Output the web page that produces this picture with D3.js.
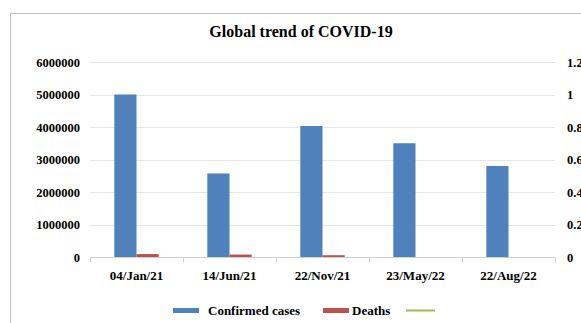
<!DOCTYPE html>
<html>
<head>
<meta charset="utf-8">
<script src="https://cdn.jsdelivr.net/npm/d3@7/dist/d3.min.js"></script>
<style>
  html, body { margin: 0; padding: 0; background: #fff; }
  svg { display: block; }
  text { font-family: "Liberation Serif", "Times New Roman", serif; fill: #000; }
</style>
</head>
<body>
<svg id="chart" width="581" height="323"></svg>
<script>
// Weekly figures at selected dates
const categories = ["04/Jan/21", "14/Jun/21", "22/Nov/21", "23/May/22", "22/Aug/22"];
const confirmedCases = [5000000, 2570000, 4030000, 3500000, 2800000];
const deaths = [90000, 75000, 55000, 0, 0];
const leftTicks = [0, 1000000, 2000000, 3000000, 4000000, 5000000, 6000000];
const rightTicks = [0, 0.2, 0.4, 0.6, 0.8, 1, 1.2];

const colors = { cases: "#4f81bd", deaths: "#c0504d", third: "#9bbb59" };

const svg = d3.select("#chart");
const plot = { left: 90, right: 555, top: 62, bottom: 257 };
const labelSize = "12.5px";

// Outer chart frame
svg.append("rect")
  .attr("x", 10.5).attr("y", 13.5)
  .attr("width", 600).attr("height", 340)
  .attr("fill", "#fff").attr("stroke", "#bfbfbf").attr("stroke-width", 1);

svg.append("text")
  .attr("x", 301).attr("y", 37)
  .attr("text-anchor", "middle")
  .style("font-size", "16px").style("font-weight", "bold")
  .text("Global trend of COVID-19");

const x = d3.scaleBand().domain(categories).range([plot.left, plot.right]);
const y = d3.scaleLinear().domain([0, 6000000]).range([plot.bottom, plot.top]);
const y2 = d3.scaleLinear().domain([0, 1.2]).range([plot.bottom, plot.top]);

// Horizontal gridlines
svg.append("g").selectAll("line")
  .data(leftTicks.filter(d => d > 0))
  .join("line")
  .attr("x1", plot.left).attr("x2", plot.right)
  .attr("y1", d => Math.round(y(d)) + 0.5).attr("y2", d => Math.round(y(d)) + 0.5)
  .attr("stroke", "#e6e6e6").attr("stroke-width", 1);

// Left axis labels
svg.append("g").attr("transform", `translate(${plot.left - 10},0)`)
  .call(d3.axisLeft(y).tickValues(leftTicks).tickSize(0).tickPadding(0).tickFormat(d3.format("d")))
  .call(g => g.select(".domain").remove())
  .selectAll("text")
  .style("font-family", "Liberation Serif, serif")
  .style("font-size", labelSize).style("font-weight", "bold").attr("fill", "#000");

// Right axis labels
svg.append("g").attr("transform", `translate(${plot.right + 12},0)`)
  .call(d3.axisRight(y2).tickValues(rightTicks).tickSize(0).tickPadding(0).tickFormat(d => String(+d.toFixed(1))))
  .call(g => g.select(".domain").remove())
  .selectAll("text")
  .style("font-family", "Liberation Serif, serif")
  .style("font-size", labelSize).style("font-weight", "bold").attr("fill", "#000");

// Bars: two per category, gap width ~219%
const bw = x.bandwidth() / (2 + 2.19);
const groups = svg.append("g").selectAll("g")
  .data(categories)
  .join("g")
  .attr("transform", d => `translate(${x(d) + x.bandwidth() / 2},0)`);

groups.append("rect")
  .attr("x", -bw)
  .attr("y", (d, i) => y(confirmedCases[i]))
  .attr("width", bw)
  .attr("height", (d, i) => y(0) - y(confirmedCases[i]))
  .attr("fill", colors.cases);

groups.append("rect")
  .attr("x", 0)
  .attr("y", (d, i) => y(deaths[i]))
  .attr("width", bw)
  .attr("height", (d, i) => y(0) - y(deaths[i]))
  .attr("fill", colors.deaths);

// Category axis
const xAxis = svg.append("g").attr("transform", `translate(0,${plot.bottom + 0.5})`);
xAxis.append("line")
  .attr("x1", plot.left).attr("x2", plot.right)
  .attr("stroke", "#d0d0d0");
xAxis.selectAll("line.tick")
  .data(categories.map(c => x(c)).concat([plot.right]))
  .join("line").attr("class", "tick")
  .attr("x1", d => Math.round(d) + 0.5).attr("x2", d => Math.round(d) + 0.5)
  .attr("y1", 0).attr("y2", 5)
  .attr("stroke", "#d0d0d0");
xAxis.selectAll("text")
  .data(categories)
  .join("text")
  .attr("x", d => x(d) + x.bandwidth() / 2)
  .attr("y", 22)
  .attr("text-anchor", "middle")
  .style("font-size", "13px").style("font-weight", "bold")
  .text(d => d);

// Legend
const legend = svg.append("g");
const legendItems = [
  { label: "Confirmed cases", color: colors.cases, type: "box", x: 173, tx: 208 },
  { label: "Deaths", color: colors.deaths, type: "box", x: 323, tx: 352 },
  { label: "", color: colors.third, type: "line", x: 406, tx: 440 }
];
legendItems.forEach(item => {
  if (item.type === "box") {
    legend.append("rect")
      .attr("x", item.x).attr("y", 308)
      .attr("width", 26).attr("height", 5)
      .attr("fill", item.color);
  } else {
    legend.append("line")
      .attr("x1", item.x).attr("x2", item.x + 29)
      .attr("y1", 310.5).attr("y2", 310.5)
      .attr("stroke", item.color).attr("stroke-width", 2);
  }
  if (item.label) {
    legend.append("text")
      .attr("x", item.tx).attr("y", 315)
      .style("font-size", "13px").style("font-weight", "bold")
      .text(item.label);
  }
});
</script>
</body>
</html>
